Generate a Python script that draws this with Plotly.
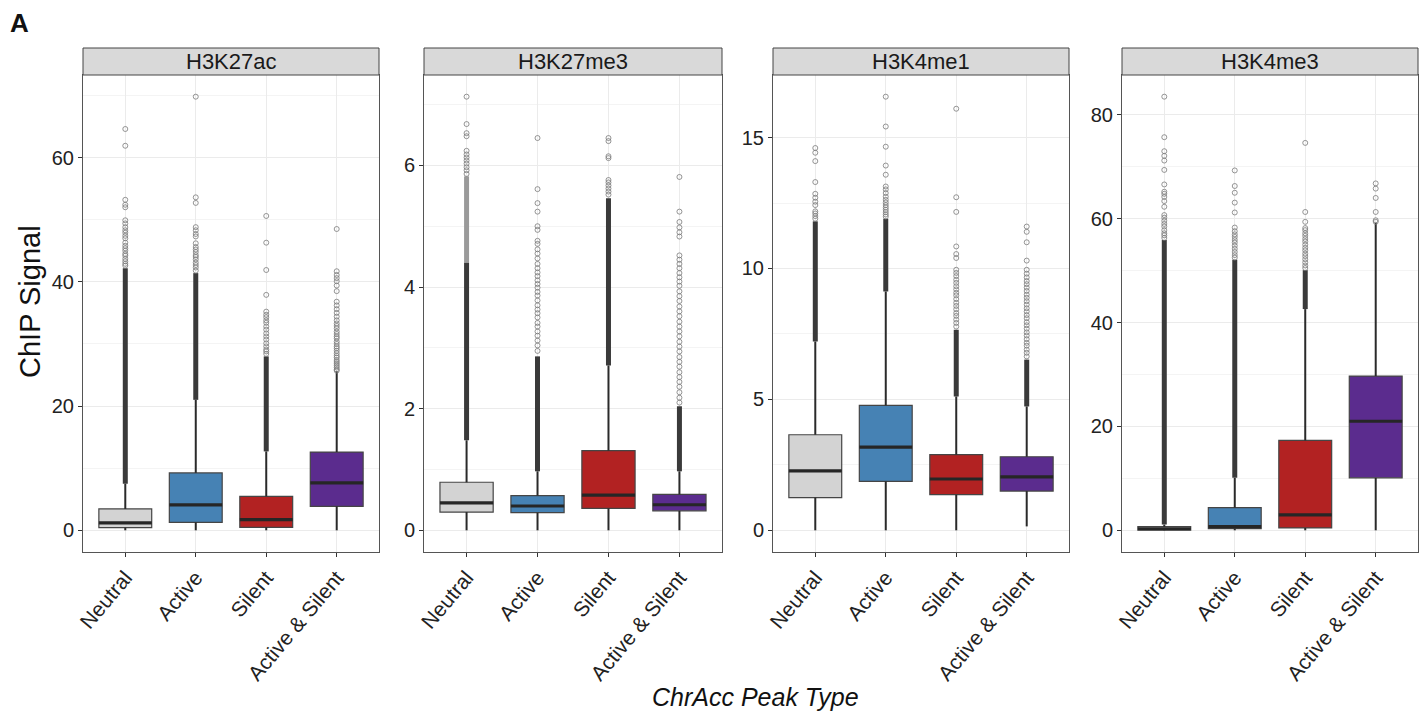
import plotly.graph_objects as go

# ---------------- data ----------------
categories = ["Neutral", "Active", "Silent", "Active & Silent"]
fill_colors = ["#d3d3d3", "#4682b4", "#b22222", "#5b2c8e"]
panel_names = ["H3K27ac", "H3K27me3", "H3K4me1", "H3K4me3"]
y_dticks = [20, 2, 5, 20]

# H3K27ac
k27ac_q1 = [0.43, 1.29, 0.48, 3.86]
k27ac_med = [1.19, 4.08, 1.72, 7.63]
k27ac_q3 = [3.44, 9.24, 5.47, 12.6]
k27ac_lo = [0, 0, 0, 0]
k27ac_hi = [7.5, 21.0, 12.7, 25.6]
k27ac_dense_hi = [42.2, 41.4, 28.0, 25.6]
k27ac_faint_hi = [42.2, 41.4, 28.0, 25.6]
k27ac_out = [
    [42.6, 42.9, 43.3, 43.7, 44.2, 44.5, 45.0, 45.4, 45.8, 46.3, 47.0, 47.4, 47.9,
     48.3, 48.8, 49.4, 49.9, 52.0, 52.4, 53.2, 61.9, 64.6],
    [41.8, 42.3, 42.7, 43.1, 43.6, 44.0, 44.3, 44.8, 45.2, 45.6, 46.2, 47.3, 47.7,
     48.3, 48.8, 52.7, 53.6, 69.8],
    [28.4, 28.8, 29.1, 29.6, 30.1, 30.7, 31.2, 31.7, 32.3, 32.8, 33.4, 33.8, 34.3,
     34.7, 35.2, 37.9, 41.9, 46.3, 50.6],
    [25.7, 25.9, 26.2, 26.5, 26.8, 27.1, 27.4, 27.8, 28.1, 28.5, 28.9, 29.3, 29.6,
     30.0, 30.4, 30.9, 31.2, 31.6, 32.0, 32.5, 32.9, 33.3, 33.8, 34.4, 35.0, 35.6,
     36.2, 36.8, 38.5, 39.4, 40.1, 40.6, 41.1, 41.7, 48.5],
]

# H3K27me3
k27me3_q1 = [0.30, 0.29, 0.36, 0.32]
k27me3_med = [0.45, 0.40, 0.58, 0.42]
k27me3_q3 = [0.79, 0.57, 1.31, 0.59]
k27me3_lo = [0, 0, 0, 0]
k27me3_hi = [1.48, 0.97, 2.71, 0.97]
k27me3_dense_hi = [4.40, 2.86, 5.46, 2.04]
k27me3_faint_hi = [5.82, 2.86, 5.46, 2.04]
k27me3_out = [
    [5.86, 5.92, 5.97, 6.03, 6.08, 6.13, 6.18, 6.24, 6.48, 6.53, 6.68, 7.13],
    [2.95, 3.04, 3.12, 3.2, 3.27, 3.35, 3.41, 3.5, 3.57, 3.63, 3.7, 3.78, 3.86,
     3.92, 3.99, 4.05, 4.11, 4.18, 4.24, 4.31, 4.38, 4.47, 4.55, 4.62, 4.71, 4.76,
     4.94, 5.0, 5.24, 5.38, 5.61, 6.45],
    [5.52, 5.57, 5.62, 5.67, 5.72, 5.76, 6.12, 6.15, 6.4, 6.45],
    [2.1, 2.18, 2.27, 2.36, 2.44, 2.52, 2.6, 2.69, 2.77, 2.85, 2.94, 3.02, 3.1,
     3.19, 3.27, 3.35, 3.43, 3.52, 3.6, 3.68, 3.77, 3.85, 3.93, 4.02, 4.09, 4.16,
     4.23, 4.31, 4.38, 4.45, 4.52, 4.83, 4.9, 4.98, 5.07, 5.24, 5.81],
]

# H3K4me1
k4me1_q1 = [1.25, 1.87, 1.36, 1.50]
k4me1_med = [2.27, 3.18, 1.96, 2.04]
k4me1_q3 = [3.65, 4.77, 2.89, 2.81]
k4me1_lo = [0, 0, 0, 0.15]
k4me1_hi = [7.21, 9.12, 5.11, 4.73]
k4me1_dense_hi = [11.8, 11.9, 7.66, 6.52]
k4me1_faint_hi = [11.8, 11.9, 7.66, 6.52]
k4me1_out = [
    [11.9, 12.0, 12.1, 12.18, 12.42, 12.55, 12.7, 12.85, 13.3, 14.1, 14.42, 14.6],
    [11.98, 12.06, 12.15, 12.24, 12.33, 12.42, 12.52, 12.62, 12.74, 12.88, 13.02,
     13.13, 13.58, 13.93, 14.65, 15.42, 16.56],
    [7.78, 7.92, 8.05, 8.19, 8.3, 8.44, 8.57, 8.69, 8.83, 8.97, 9.07, 9.2, 9.32,
     9.45, 9.57, 9.71, 9.83, 9.95, 10.4, 10.55, 10.84, 12.16, 12.72, 16.1],
    [6.64, 6.78, 6.9, 7.05, 7.16, 7.3, 7.44, 7.56, 7.7, 7.83, 7.95, 8.1, 8.22,
     8.36, 8.48, 8.62, 8.75, 8.88, 9.0, 9.14, 9.27, 9.4, 9.52, 9.66, 9.8, 9.95,
     10.3, 11.0, 11.4, 11.6],
]

# H3K4me3
k4me3_q1 = [0.05, 0.33, 0.46, 10.1]
k4me3_med = [0.30, 0.71, 2.96, 21.0]
k4me3_q3 = [0.71, 4.37, 17.3, 29.7]
k4me3_lo = [0, 0, 0, 0]
k4me3_hi = [1.1, 10.1, 42.6, 59.2]
k4me3_dense_hi = [55.9, 52.1, 50.1, 59.2]
k4me3_faint_hi = [55.9, 52.1, 50.1, 59.2]
k4me3_out = [
    [56.3, 56.8, 57.2, 57.8, 58.5, 59.0, 59.6, 60.2, 60.7, 62.3, 63.4, 64.2, 64.8,
     65.2, 66.6, 69.4, 71.2, 72.1, 73.0, 75.7, 83.5],
    [52.5, 53.0, 53.6, 54.2, 54.8, 55.4, 55.9, 56.5, 57.0, 57.6, 58.3, 61.2, 63.1,
     65.0, 66.3, 69.3],
    [50.5, 51.0, 51.6, 52.2, 52.8, 53.3, 53.9, 54.4, 55.0, 55.6, 56.1, 56.7, 57.2,
     57.8, 58.2, 59.4, 61.3, 74.6],
    [59.4, 59.7, 61.3, 64.0, 65.8, 66.8],
]

panels = [
    dict(q1=k27ac_q1, med=k27ac_med, q3=k27ac_q3, lo=k27ac_lo, hi=k27ac_hi,
         dense=k27ac_dense_hi, faint=k27ac_faint_hi, out=k27ac_out),
    dict(q1=k27me3_q1, med=k27me3_med, q3=k27me3_q3, lo=k27me3_lo, hi=k27me3_hi,
         dense=k27me3_dense_hi, faint=k27me3_faint_hi, out=k27me3_out),
    dict(q1=k4me1_q1, med=k4me1_med, q3=k4me1_q3, lo=k4me1_lo, hi=k4me1_hi,
         dense=k4me1_dense_hi, faint=k4me1_faint_hi, out=k4me1_out),
    dict(q1=k4me3_q1, med=k4me3_med, q3=k4me3_q3, lo=k4me3_lo, hi=k4me3_hi,
         dense=k4me3_dense_hi, faint=k4me3_faint_hi, out=k4me3_out),
]

# ---------------- layout geometry ----------------
W, H = 1427, 714
x_domains_px = [(83, 379), (424, 722), (773, 1069), (1122, 1418)]
plot_top_px, plot_bot_px, strip_top_px = 75, 552, 48
y_domain = [(H - plot_bot_px) / H, (H - plot_top_px) / H]
strip_y = [(H - plot_top_px) / H, (H - strip_top_px) / H]
BOX_W = 0.75
FONT = "Liberation Sans, Arial, Helvetica, sans-serif"
WHISKER = dict(color="#2a2a2a", width=2)

fig = go.Figure()
layout_axes = {}
shapes, annotations = [], []

for i, p in enumerate(panels):
    k = "" if i == 0 else str(i + 1)
    xa, ya = "x" + k, "y" + k
    for j in range(len(categories)):
        pos = j + 1
        # whiskers (drawn as plain lines, no caps)
        fig.add_trace(go.Scatter(
            x=[pos, pos], y=[p["lo"][j], p["q1"][j]], mode="lines", line=WHISKER,
            xaxis=xa, yaxis=ya, showlegend=False, hoverinfo="skip"))
        fig.add_trace(go.Scatter(
            x=[pos, pos], y=[p["q3"][j], p["hi"][j]], mode="lines", line=WHISKER,
            xaxis=xa, yaxis=ya, showlegend=False, hoverinfo="skip"))
        # faint (lighter) dense outlier band
        if p["faint"][j] > p["dense"][j]:
            fig.add_trace(go.Scatter(
                x=[pos, pos], y=[p["dense"][j], p["faint"][j]], mode="lines",
                line=dict(color="#9a9a9a", width=5), xaxis=xa, yaxis=ya,
                showlegend=False, hoverinfo="skip"))
        # dense outlier band
        if p["dense"][j] > p["hi"][j]:
            fig.add_trace(go.Scatter(
                x=[pos, pos], y=[p["hi"][j], p["dense"][j]], mode="lines",
                line=dict(color="#3a3a3a", width=5), xaxis=xa, yaxis=ya,
                showlegend=False, hoverinfo="skip"))
        fig.add_trace(go.Box(
            x=[pos], q1=[p["q1"][j]], median=[p["med"][j]], q3=[p["q3"][j]],
            lowerfence=[p["q1"][j]], upperfence=[p["q3"][j]],
            width=BOX_W, whiskerwidth=0, fillcolor=fill_colors[j],
            line=dict(color="#454545", width=1.2), boxpoints=False,
            xaxis=xa, yaxis=ya, showlegend=False, hoverinfo="skip"))
        fig.add_trace(go.Scatter(
            x=[pos - BOX_W / 2, pos + BOX_W / 2], y=[p["med"][j], p["med"][j]],
            mode="lines", line=dict(color="#262626", width=3.2),
            xaxis=xa, yaxis=ya, showlegend=False, hoverinfo="skip"))
        fig.add_trace(go.Scatter(
            x=[pos] * len(p["out"][j]), y=p["out"][j], mode="markers",
            marker=dict(symbol="circle-open", size=5, color="#7a7a7a",
                        line=dict(width=0.8, color="#7a7a7a")),
            xaxis=xa, yaxis=ya, showlegend=False, hoverinfo="skip"))

    ymax = max(max(o) for o in p["out"])
    ymin = min(p["lo"])
    span = ymax - ymin
    d0, d1 = x_domains_px[i]
    xdom = [d0 / W, d1 / W]
    layout_axes["xaxis" + k] = dict(
        domain=xdom, anchor=ya, range=[0.4, 4.6], tickmode="array",
        tickvals=[1, 2, 3, 4], ticktext=categories, tickangle=-50,
        automargin=False,
        showgrid=True, gridcolor="#ebebeb", gridwidth=1.2, zeroline=False,
        ticks="outside", ticklen=4, tickwidth=1, tickcolor="#333333",
        showline=True, mirror=True, linecolor="#555555", linewidth=1,
        tickfont=dict(family=FONT, size=21, color="#222222"))
    layout_axes["yaxis" + k] = dict(
        domain=y_domain, anchor=xa, automargin=False,
        range=[ymin - 0.05 * span, ymax + 0.05 * span],
        tick0=0, dtick=y_dticks[i], showgrid=True, gridcolor="#ebebeb",
        gridwidth=1.2, zeroline=False, ticks="outside", ticklen=4, tickwidth=1,
        tickcolor="#333333", showline=True, mirror=True, linecolor="#555555",
        linewidth=1, tickfont=dict(family=FONT, size=20, color="#222222"),
        minor=dict(dtick=y_dticks[i] / 2, tick0=0, showgrid=True,
                   gridcolor="#f4f4f4", gridwidth=0.8, ticks=""))
    shapes.append(dict(type="rect", xref="paper", yref="paper",
                       x0=xdom[0], x1=xdom[1], y0=strip_y[0], y1=strip_y[1],
                       fillcolor="#d9d9d9", line=dict(color="#444444", width=1),
                       layer="above"))
    annotations.append(dict(text=panel_names[i], xref="paper", yref="paper",
                            x=(xdom[0] + xdom[1]) / 2, y=(strip_y[0] + strip_y[1]) / 2,
                            xanchor="center", yanchor="middle", showarrow=False,
                            font=dict(family=FONT, size=22, color="#1a1a1a")))

annotations.append(dict(text="<b>A</b>", xref="paper", yref="paper",
                        x=8 / W, y=1 - 6 / H, xanchor="left", yanchor="top",
                        showarrow=False, font=dict(family=FONT, size=26, color="#111111")))
annotations.append(dict(text="ChIP Signal", xref="paper", yref="paper",
                        x=30 / W, y=(H - 302) / H, xanchor="center", yanchor="middle",
                        textangle=-90, showarrow=False,
                        font=dict(family=FONT, size=29, color="#111111")))
annotations.append(dict(text="<i>ChrAcc Peak Type</i>", xref="paper", yref="paper",
                        x=755 / W, y=(H - 697) / H, xanchor="center", yanchor="middle",
                        showarrow=False, font=dict(family=FONT, size=25, color="#111111")))

fig.update_layout(
    width=W, height=H, margin=dict(l=0, r=0, t=0, b=0, autoexpand=False),
    paper_bgcolor="white", plot_bgcolor="white", showlegend=False,
    shapes=shapes, annotations=annotations, **layout_axes)

fig.write_html("out.html")
